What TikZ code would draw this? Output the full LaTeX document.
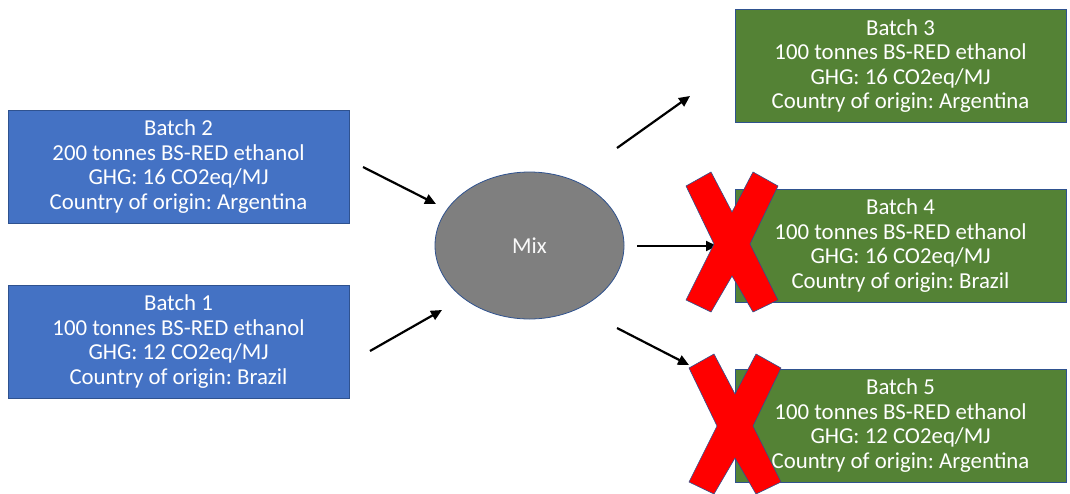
\documentclass[tikz,border=0pt]{standalone}
\usepackage{fontspec}
\setmainfont{Carlito}
\frenchspacing
\usetikzlibrary{arrows.meta,shapes.geometric}
\definecolor{bblue}{HTML}{4472C4}
\definecolor{bborder}{HTML}{2F528F}
\definecolor{bgreen}{HTML}{548235}
\definecolor{mgray}{HTML}{7F7F7F}
\definecolor{xred}{HTML}{FF0000}
\begin{document}
\begin{tikzpicture}[x=1pt,y=-1pt,
  box/.style={draw=bborder, line width=0.8pt, text=white, align=center, inner sep=0pt,
    minimum width=331pt, minimum height=113pt, font=\fontsize{22.8}{24.6}\selectfont},
  bluebox/.style={box, fill=bblue, minimum width=341pt},
  greenbox/.style={box, fill=bgreen},
  mixnode/.style={ellipse, draw=bborder, line width=0.8pt, fill=mgray, text=white!95!gray,
    minimum width=189pt, minimum height=147pt, inner sep=0pt, font=\fontsize{22.8}{24}\selectfont},
  arr/.style={line width=2.2pt, -{Triangle[length=11pt,width=10pt]}},
  cross/.style={fill=xred, draw=bborder, line width=0.6pt}]
\useasboundingbox (0,0) rectangle (1070,493);

\node[bluebox] (b2) at (178.5,166.5) {Batch 2\\200 tonnes BS-RED ethanol\\GHG: 16 CO2eq/MJ\\Country of origin: Argentina};
\node[bluebox] (b1) at (178.5,341.5) {Batch 1\\100 tonnes BS-RED ethanol\\GHG: 12 CO2eq/MJ\\Country of origin: Brazil};
\node[mixnode] (mix) at (529.5,245.5) {Mix};
\node[greenbox] (b3) at (900.5,66) {Batch 3\\100 tonnes BS-RED ethanol\\GHG: 16 CO2eq/MJ\\Country of origin: Argentina};
\node[greenbox] (b4) at (900.5,245.5) {Batch 4\\100 tonnes BS-RED ethanol\\GHG: 16 CO2eq/MJ\\Country of origin: Brazil};
\node[greenbox] (b5) at (900.5,425.5) {Batch 5\\100 tonnes BS-RED ethanol\\GHG: 12 CO2eq/MJ\\Country of origin: Argentina};

\coordinate (a1s) at (363,167); \coordinate (a1e) at (436,204);
\coordinate (a2s) at (370,351); \coordinate (a2e) at (442,310);
\coordinate (a3s) at (617,148); \coordinate (a3e) at (690,96);
\coordinate (a4s) at (637,246); \coordinate (a4e) at (717,246);
\coordinate (a5s) at (617,328); \coordinate (a5e) at (689,365);
\draw[arr] (a1s) -- (a1e);
\draw[arr] (a2s) -- (a2e);
\draw[arr] (a3s) -- (a3e);
\draw[arr] (a4s) -- (a4e);
\draw[arr] (a5s) -- (a5e);

\foreach \cx/\cy in {732/243, 735/425}{
  \draw[cross, shift={(\cx,\cy)}]
    (-46,-57) -- (-21,-71) -- (0,-31) -- (21,-71) -- (46,-57) -- (18,1)
    -- (46,57) -- (21,69) -- (0,33) -- (-21,69) -- (-46,57) -- (-18,1) -- cycle;
}
\end{tikzpicture}
\end{document}
